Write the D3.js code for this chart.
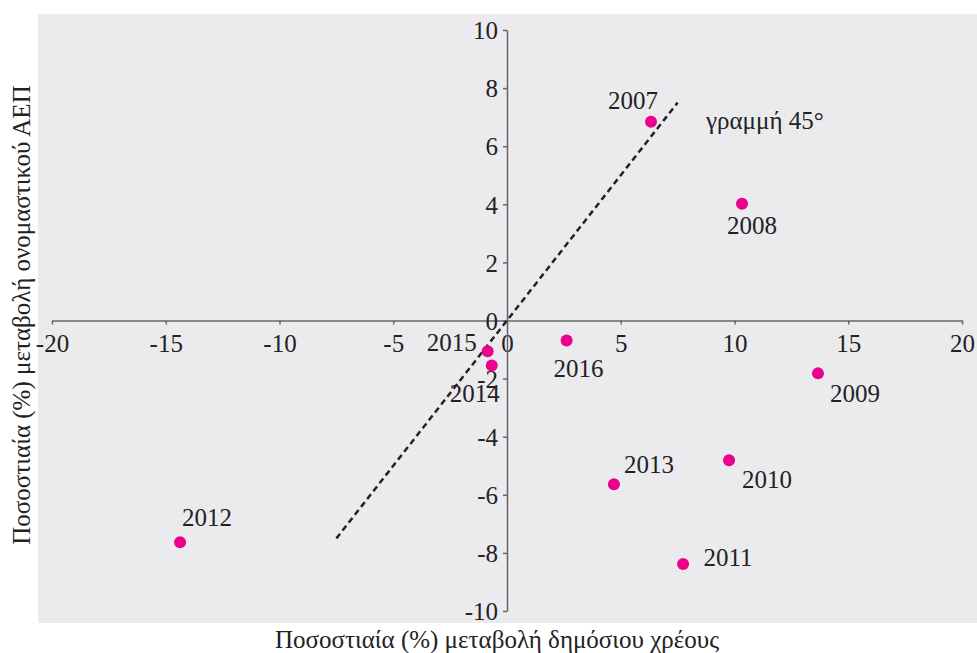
<!DOCTYPE html>
<html>
<head>
<meta charset="utf-8">
<style>
  body { margin: 0; background: #fff; }
  svg text { font-family: "Liberation Serif", "DejaVu Serif", serif; fill: #222; }
</style>
</head>
<body>
<div id="chart"></div>
<script src="https://cdn.jsdelivr.net/npm/d3@7"></script>
<script>
// data
var years = ["2007","2008","2009","2010","2011","2012","2013","2014","2015","2016"];
var debtChange = [6.33, 10.33, 13.67, 9.76, 7.74, -14.37, 4.70, -0.67, -0.85, 2.62];
var gdpChange  = [6.84, 4.02, -1.82, -4.81, -8.38, -7.63, -5.64, -1.55, -1.06, -0.69];
// label offsets (px) relative to each point
var labelDx = [-18, 10, 37, 38, 45, 27, 35, -17, -36, 12];
var labelDy = [-13, 30, 29, 28, 2, -16, -11, 36, 0, 36];
var xTicks = [-20,-15,-10,-5,0,5,10,15,20];
var yTicks = [-10,-8,-6,-4,-2,0,2,4,6,8,10];
var line45 = [-7.5, 7.5];

var width = 977, height = 653, fs = 25;

var svg = d3.select("#chart").append("svg")
    .attr("width", width)
    .attr("height", height);

svg.append("rect")
    .attr("x", 38).attr("y", 14)
    .attr("width", 939).attr("height", 609)
    .attr("fill", "#ebebee");

var x = d3.scaleLinear().domain([-20, 20]).range([52, 962]);
var y = d3.scaleLinear().domain([-10, 10]).range([611, 30]);

var fmt = function(d) { return String(d); }; // plain hyphen minus, like the original

var xAxis = svg.append("g")
    .attr("transform", "translate(0," + y(0) + ")")
    .call(d3.axisBottom(x).tickValues(xTicks).tickFormat(fmt).tickSize(4).tickSizeOuter(0).tickPadding(10));

var yAxis = svg.append("g")
    .attr("transform", "translate(" + x(0) + ",0)")
    .call(d3.axisLeft(y).tickValues(yTicks).tickFormat(fmt).tickSize(4).tickSizeOuter(0).tickPadding(5));

[xAxis, yAxis].forEach(function(a) {
  a.select(".domain").attr("stroke", "#666").attr("stroke-width", 1.5);
  a.selectAll(".tick line").attr("stroke", "#666").attr("stroke-width", 1.5);
  a.selectAll(".tick text")
      .attr("font-size", fs)
      .attr("font-family", "Liberation Serif, DejaVu Serif, serif")
      .attr("fill", "#222");
});
yAxis.selectAll(".tick text").attr("dy", "0.35em");

// 45 degree line
svg.append("line")
    .attr("x1", x(line45[0])).attr("y1", y(line45[0]))
    .attr("x2", x(line45[1])).attr("y2", y(line45[1]))
    .attr("stroke", "#222")
    .attr("stroke-width", 2.5)
    .attr("stroke-dasharray", "6,4");

svg.append("text")
    .attr("x", 706).attr("y", 129)
    .attr("font-size", fs)
    .text("γραμμή 45°");

var pts = years.map(function(d, i) {
  return { year: d, x: debtChange[i], y: gdpChange[i], dx: labelDx[i], dy: labelDy[i] };
});

svg.append("g").selectAll("circle")
    .data(pts)
  .enter().append("circle")
    .attr("cx", function(d) { return x(d.x); })
    .attr("cy", function(d) { return y(d.y); })
    .attr("r", 6)
    .attr("fill", "#ec008c");

svg.append("g").selectAll("text")
    .data(pts)
  .enter().append("text")
    .attr("x", function(d) { return x(d.x) + d.dx; })
    .attr("y", function(d) { return y(d.y) + d.dy; })
    .attr("text-anchor", "middle")
    .attr("font-size", fs)
    .text(function(d) { return d.year; });

// axis titles
svg.append("text")
    .attr("x", 497).attr("y", 648)
    .attr("text-anchor", "middle")
    .attr("font-size", fs)
    .text("Ποσοστιαία (%) μεταβολή δημόσιου χρέους");

svg.append("text")
    .attr("transform", "translate(30,315) rotate(-90)")
    .attr("text-anchor", "middle")
    .attr("font-size", fs)
    .text("Ποσοστιαία (%) μεταβολή ονομαστικού ΑΕΠ");
</script>
</body>
</html>
